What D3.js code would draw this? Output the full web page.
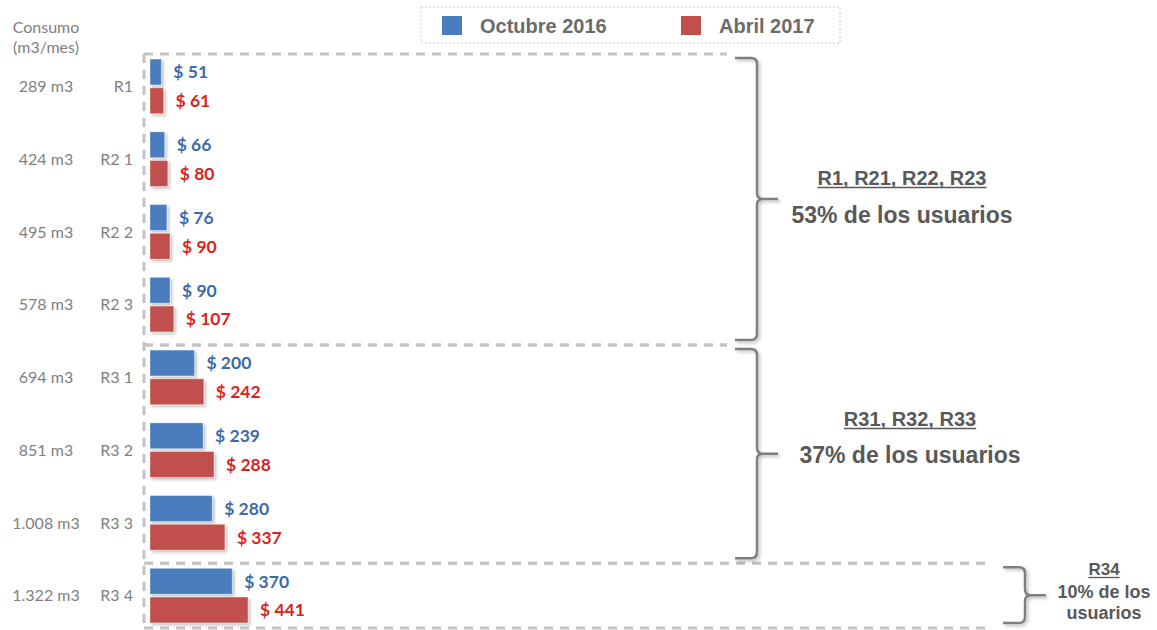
<!DOCTYPE html>
<html>
<head>
<meta charset="utf-8">
<script src="https://cdn.jsdelivr.net/npm/d3@7"></script>
<style>
  body { margin: 0; background: #fff; }
  svg { display: block; }
</style>
</head>
<body>
<div id="chart"></div>
<script>
// data
var categories = ["R1", "R2 1", "R2 2", "R2 3", "R3 1", "R3 2", "R3 3", "R3 4"];
var consumo = ["289 m3", "424 m3", "495 m3", "578 m3", "694 m3", "851 m3", "1.008 m3", "1.322 m3"];
var series = ["Octubre 2016", "Abril 2017"];
var oct2016 = [51, 66, 76, 90, 200, 239, 280, 370];
var abr2017 = [61, 80, 90, 107, 242, 288, 337, 441];
var groupFirst = [0, 4, 7];
var groupTitles = ["R1, R21, R22, R23", "R31, R32, R33", "R34"];
var groupShares = [["53% de los usuarios"], ["37% de los usuarios"], ["10% de los", "usuarios"]];

var width = 1157, height = 630;
var barColor = ["#4a7dbd", "#c0504d"];
var labelColor = ["#3d6aa9", "#d9231f"];
var grey = "#595959";

var svg = d3.select("#chart").append("svg")
  .attr("width", width)
  .attr("height", height);

var defs = svg.append("defs");
defs.append("filter").attr("id", "shadow")
  .attr("x", "-20%").attr("y", "-20%").attr("width", "150%").attr("height", "150%")
  .append("feDropShadow")
  .attr("dx", 2).attr("dy", 2).attr("stdDeviation", 1.5)
  .attr("flood-color", "#000").attr("flood-opacity", 0.25);

var x = d3.scaleLinear().domain([0, 441]).range([150, 248]);
var y0 = d3.scaleBand().domain(categories).range([50, 632])
  .paddingInner(0.25).paddingOuter(0.125);
var y1 = d3.scaleBand().domain(series).range([0, y0.bandwidth()]).paddingInner(0.1);

var rows = categories.map(function (c, i) {
  return { cat: c, cons: consumo[i], vals: [oct2016[i], abr2017[i]] };
});

// group boundaries
function groupTop(g) { return y0(categories[groupFirst[g]]) - 5; }
function groupBottom(g) {
  if (g == groupFirst.length - 1) return 628;
  return groupTop(g + 1);
}
var boxRight = [727, 727, 987];

// dashed boxes
var dash = svg.append("g")
  .attr("stroke", "#c4c4c4")
  .attr("stroke-width", 3)
  .attr("stroke-dasharray", "9,7")
  .attr("fill", "none");
groupFirst.forEach(function (f, g) {
  dash.append("line")
    .attr("x1", 144).attr("x2", boxRight[g])
    .attr("y1", groupTop(g)).attr("y2", groupTop(g));
});
dash.append("line")
  .attr("x1", 144).attr("x2", boxRight[1])
  .attr("y1", groupBottom(0)).attr("y2", groupBottom(0));
dash.append("line")
  .attr("x1", 144).attr("x2", boxRight[2])
  .attr("y1", groupBottom(1)).attr("y2", groupBottom(1));
dash.append("line")
  .attr("x1", 144).attr("x2", boxRight[2])
  .attr("y1", groupBottom(2)).attr("y2", groupBottom(2));
dash.append("line")
  .attr("x1", 144).attr("x2", 144)
  .attr("y1", groupTop(0)).attr("y2", groupBottom(2));

// bars
var rowG = svg.selectAll("g.row")
  .data(rows)
  .enter()
  .append("g")
  .attr("class", "row")
  .attr("transform", function (d) { return "translate(0," + y0(d.cat) + ")"; });

rowG.selectAll("rect")
  .data(function (d) { return d.vals; })
  .enter()
  .append("rect")
  .attr("x", x(0))
  .attr("y", function (d, i) { return y1(series[i]); })
  .attr("width", function (d) { return x(d) - x(0); })
  .attr("height", y1.bandwidth())
  .attr("fill", function (d, i) { return barColor[i]; })
  .attr("stroke", "#fff")
  .attr("stroke-opacity", 0.35)
  .attr("stroke-width", 1)
  .attr("filter", "url(#shadow)");

rowG.selectAll("text.val")
  .data(function (d) { return d.vals; })
  .enter()
  .append("text")
  .attr("class", "val")
  .attr("x", function (d) { return x(d) + 12; })
  .attr("y", function (d, i) { return y1(series[i]) + y1.bandwidth() / 2; })
  .attr("dy", "0.36em")
  .attr("font-family", "Lato, 'Open Sans', sans-serif")
  .attr("font-weight", "bold")
  .attr("font-size", 17.5)
  .attr("fill", function (d, i) { return labelColor[i]; })
  .text(function (d) { return "$ " + d; });

// left labels
rowG.append("text")
  .attr("x", 46)
  .attr("y", y0.bandwidth() / 2)
  .attr("dy", "0.36em")
  .attr("text-anchor", "middle")
  .attr("font-family", "Lato, sans-serif")
  .attr("font-size", 16)
  .attr("fill", "#7f7f7f")
  .text(function (d) { return d.cons; });

rowG.append("text")
  .attr("x", 133)
  .attr("y", y0.bandwidth() / 2)
  .attr("dy", "0.36em")
  .attr("text-anchor", "end")
  .attr("font-family", "Lato, sans-serif")
  .attr("font-size", 16)
  .attr("fill", "#7f7f7f")
  .text(function (d) { return d.cat; });

svg.append("text")
  .attr("x", 46).attr("y", 33)
  .attr("text-anchor", "middle")
  .attr("font-family", "Lato, sans-serif")
  .attr("font-size", 16)
  .attr("fill", "#7f7f7f")
  .text("Consumo");
svg.append("text")
  .attr("x", 46).attr("y", 53)
  .attr("text-anchor", "middle")
  .attr("font-family", "Lato, sans-serif")
  .attr("font-size", 16)
  .attr("fill", "#7f7f7f")
  .text("(m3/mes)");

// legend
var leg = svg.append("g");
leg.append("rect")
  .attr("x", 421).attr("y", 7)
  .attr("width", 419).attr("height", 36)
  .attr("fill", "none")
  .attr("stroke", "#c8c8c8")
  .attr("stroke-dasharray", "2,2");
var legX = [442, 681];
series.forEach(function (s, i) {
  leg.append("rect")
    .attr("x", legX[i]).attr("y", 16)
    .attr("width", 20).attr("height", 19)
    .attr("fill", barColor[i]);
  leg.append("text")
    .attr("x", legX[i] + 38).attr("y", 33)
    .attr("font-family", "'Liberation Sans', Arial, sans-serif")
    .attr("font-weight", "bold")
    .attr("font-size", 20)
    .attr("fill", "#6b6b6b")
    .text(s);
});

// braces
var braceX = [735, 735, 1003];
function bracePath(x0, top, bot) {
  var xv = x0 + 22, xt = x0 + 43, mid = (top + bot) / 2, r = 6;
  return "M" + x0 + "," + top +
    "L" + (xv - r) + "," + top +
    "Q" + xv + "," + top + " " + xv + "," + (top + r) +
    "L" + xv + "," + (mid - r) +
    "Q" + xv + "," + mid + " " + (xv + r) + "," + mid +
    "L" + xt + "," + mid +
    "M" + (xv + r) + "," + mid +
    "Q" + xv + "," + mid + " " + xv + "," + (mid + r) +
    "L" + xv + "," + (bot - r) +
    "Q" + xv + "," + bot + " " + (xv - r) + "," + bot +
    "L" + x0 + "," + bot;
}
groupFirst.forEach(function (f, g) {
  svg.append("path")
    .attr("d", bracePath(braceX[g], groupTop(g) + 4, groupBottom(g) - 5))
    .attr("fill", "none")
    .attr("stroke", "#7f7f7f")
    .attr("stroke-width", 2.5)
    .attr("filter", "url(#shadow)");
});

// group notes
var noteX = [902, 910, 1104];
var noteY = [185, 426, 575];
var titleSize = [20, 20, 17];
var shareSize = [23, 23, 18];
var shareGap = [38, 37, 23];
groupTitles.forEach(function (t, g) {
  var tt = svg.append("text")
    .attr("x", noteX[g]).attr("y", noteY[g])
    .attr("text-anchor", "middle")
    .attr("font-family", "'Liberation Sans', Arial, sans-serif")
    .attr("font-weight", "bold")
    .attr("font-size", titleSize[g])
    .attr("fill", grey)
    .text(t);
  var w = tt.node().getComputedTextLength();
  svg.append("line")
    .attr("x1", noteX[g] - w / 2).attr("x2", noteX[g] + w / 2)
    .attr("y1", noteY[g] + 2.5).attr("y2", noteY[g] + 2.5)
    .attr("stroke", grey)
    .attr("stroke-width", 1.3);
  groupShares[g].forEach(function (s, k) {
    svg.append("text")
      .attr("x", noteX[g])
      .attr("y", noteY[g] + shareGap[g] + k * 21)
      .attr("text-anchor", "middle")
      .attr("font-family", "'Liberation Sans', Arial, sans-serif")
      .attr("font-weight", "bold")
      .attr("font-size", shareSize[g])
      .attr("fill", grey)
      .text(s);
  });
});
</script>
</body>
</html>
